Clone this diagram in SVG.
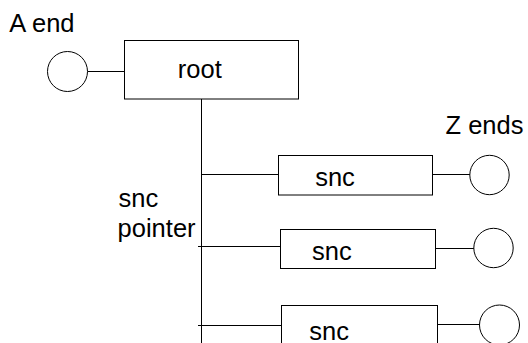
<svg xmlns="http://www.w3.org/2000/svg" width="528" height="343" viewBox="0 0 528 343">
<style>
.box{fill:#fff;stroke:#000;stroke-width:1}
.end{fill:#fff;stroke:#000;stroke-width:1}
.ln{stroke:#000;stroke-width:1;fill:none}
text{font-family:"Liberation Sans",Arial,sans-serif;font-size:25.5px;fill:#000}
</style>
<rect width="528" height="343" fill="#fff"/>
<g id="connectors">
<line class="ln" x1="87.5" y1="71.5" x2="126.5" y2="71.5"/>
<line class="ln" x1="201.5" y1="97.5" x2="201.5" y2="343"/>
<line class="ln" x1="201.5" y1="174.5" x2="278.5" y2="174.5"/>
<line class="ln" x1="198" y1="246.5" x2="280.5" y2="246.5"/>
<line class="ln" x1="198" y1="325.5" x2="281.5" y2="325.5"/>
<line class="ln" x1="432.5" y1="174.5" x2="470" y2="174.5"/>
<line class="ln" x1="435.5" y1="248.5" x2="474" y2="248.5"/>
<line class="ln" x1="437.5" y1="324.5" x2="479.5" y2="324.5"/>
</g>
<g id="a-end">
<circle class="end" cx="67.5" cy="71.5" r="20"/>
<text x="9.3" y="32.3">A end</text>
</g>
<g id="root">
<rect class="box" x="124.5" y="40.5" width="174" height="58.5"/>
<text x="177.8" y="77.7">root</text>
</g>
<g id="snc-pointer">
<text x="118.5" y="206.7">snc</text>
<text x="117.6" y="236.7">pointer</text>
</g>
<g id="z-ends">
<text x="445.5" y="133.5">Z ends</text>
</g>
<g id="snc1">
<rect class="box" x="278.5" y="155.5" width="154" height="39.5"/>
<text x="315.2" y="186">snc</text>
</g>
<g id="z1"><circle class="end" cx="489.5" cy="175" r="19.7"/></g>
<g id="snc2">
<rect class="box" x="280.5" y="229.5" width="155" height="39"/>
<text x="312" y="260">snc</text>
</g>
<g id="z2"><circle class="end" cx="493.5" cy="248" r="19.7"/></g>
<g id="snc3">
<rect class="box" x="281.5" y="305.5" width="156" height="60"/>
<text x="309.3" y="339.5">snc</text>
</g>
<g id="z3"><circle class="end" cx="499.5" cy="325" r="20"/></g>
</svg>
